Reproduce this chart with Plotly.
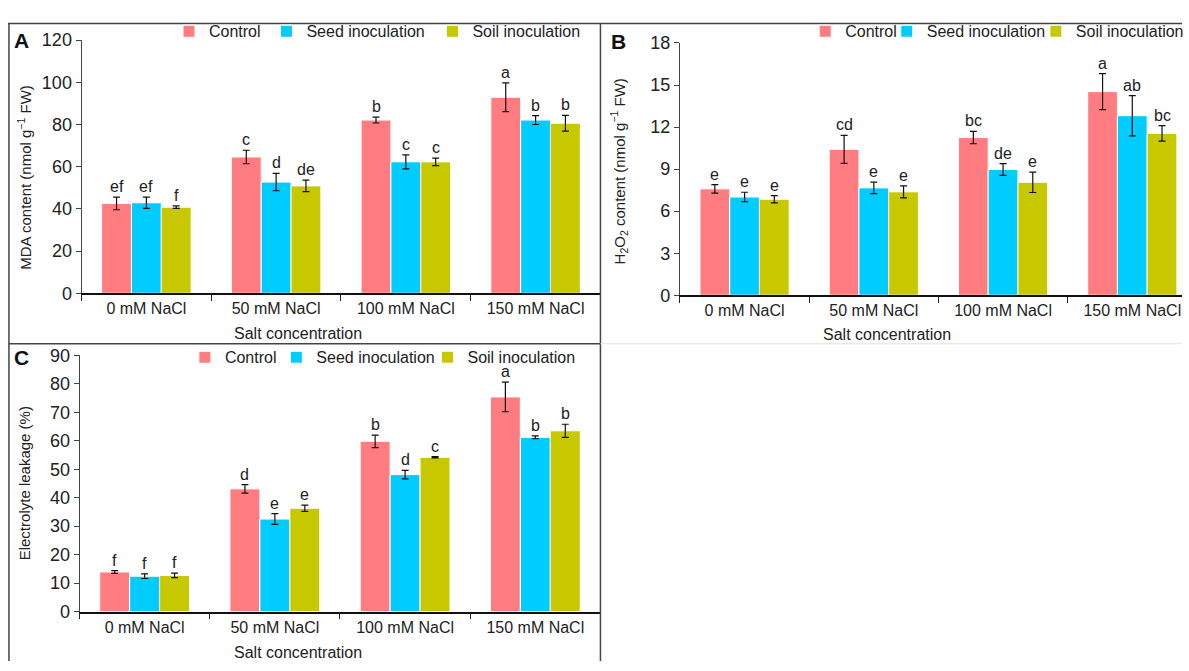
import plotly.graph_objects as go

W, H = 1189, 671
categories = ["0 mM NaCl", "50 mM NaCl", "100 mM NaCl", "150 mM NaCl"]
series_names = ["Control", "Seed inoculation", "Soil inoculation"]
colors = ["#FF7C80", "#00CCFF", "#C8C800"]

# Panel A: MDA content
mda_control = [42.6, 64.6, 82.1, 92.9]
mda_seed = [42.9, 52.7, 62.3, 82.1]
mda_soil = [40.8, 50.9, 62.3, 80.6]
mda_control_err = [3.0, 3.2, 1.4, 6.8]
mda_seed_err = [2.7, 4.1, 3.3, 2.1]
mda_soil_err = [0.6, 2.7, 1.8, 3.7]
mda_control_lab = ["ef", "c", "b", "a"]
mda_seed_lab = ["ef", "d", "c", "b"]
mda_soil_lab = ["f", "de", "c", "b"]

# Panel B: H2O2 content
h2o2_control = [7.59, 10.41, 11.25, 14.53]
h2o2_seed = [7.01, 7.66, 8.97, 12.81]
h2o2_soil = [6.85, 7.38, 8.06, 11.55]
h2o2_control_err = [0.30, 1.00, 0.44, 1.29]
h2o2_seed_err = [0.34, 0.41, 0.42, 1.44]
h2o2_soil_err = [0.26, 0.43, 0.73, 0.55]
h2o2_control_lab = ["e", "cd", "bc", "a"]
h2o2_seed_lab = ["e", "e", "de", "ab"]
h2o2_soil_lab = ["e", "e", "e", "bc"]

# Panel C: electrolyte leakage
el_control = [13.9, 43.1, 59.8, 75.4]
el_seed = [12.4, 32.5, 48.1, 61.2]
el_soil = [12.7, 36.3, 54.2, 63.5]
el_control_err = [0.5, 1.5, 2.2, 5.2]
el_seed_err = [0.8, 1.9, 1.5, 0.5]
el_soil_err = [0.8, 1.1, 0.2, 2.3]
el_control_lab = ["f", "d", "b", "a"]
el_seed_lab = ["f", "e", "d", "b"]
el_soil_lab = ["f", "e", "c", "b"]

yticks_a = [0, 20, 40, 60, 80, 100, 120]
yticks_b = [0, 3, 6, 9, 12, 15, 18]
yticks_c = [0, 10, 20, 30, 40, 50, 60, 70, 80, 90]

FONT = "Arial, Liberation Sans, sans-serif"
TXT = "#222222"
BARGAP = 0.31

def px(x):
    return x / W

def py(y):
    return 1 - y / H

panels = [
    dict(ax="", vals=[mda_control, mda_seed, mda_soil],
         errs=[mda_control_err, mda_seed_err, mda_soil_err],
         labs=[mda_control_lab, mda_seed_lab, mda_soil_lab],
         xdom=[px(82), px(604)], ydom=[py(292), py(31)], yr=[0, 120], yt=yticks_a,
         xr=[-0.5, 3.5], legx=[190, 288, 455], legy=22),
    dict(ax="2", vals=[h2o2_control, h2o2_seed, h2o2_soil],
         errs=[h2o2_control_err, h2o2_seed_err, h2o2_soil_err],
         labs=[h2o2_control_lab, h2o2_seed_lab, h2o2_soil_lab],
         xdom=[px(684), 1.0], ydom=[py(294), py(34)], yr=[0, 18], yt=yticks_b,
         xr=[-0.5, -0.5 + 505 / 130.0], legx=[830, 912, 1062], legy=22),
    dict(ax="3", vals=[el_control, el_seed, el_soil],
         errs=[el_control_err, el_seed_err, el_soil_err],
         labs=[el_control_lab, el_seed_lab, el_soil_lab],
         xdom=[px(80), px(604)], ydom=[py(620), py(356)], yr=[0, 90], yt=yticks_c,
         xr=[-0.5, 3.5], legx=[206, 298, 450], legy=358),
]

fig = go.Figure()
annotations = []
layout = {}
legend_idx = 0
bw = (1 - BARGAP) / 3.0
for p in panels:
    ax = p["ax"]
    for k in range(3):
        legend_idx += 1
        lname = "legend" if legend_idx == 1 else f"legend{legend_idx}"
        fig.add_trace(go.Bar(
            x=categories, y=p["vals"][k], name=series_names[k],
            marker=dict(color=colors[k], line=dict(color="white", width=1)),
            error_y=dict(type="data", array=p["errs"][k], color="#111111",
                         thickness=1.2, width=3.5),
            xaxis="x" + ax, yaxis="y" + ax, legend=lname, showlegend=True,
        ))
        layout[lname] = dict(
            x=px(p["legx"][k] - 20), y=py(p["legy"]), xanchor="left", yanchor="middle",
            orientation="h", bgcolor="rgba(0,0,0,0)", borderwidth=0,
            font=dict(family=FONT, size=16, color=TXT), itemwidth=30,
        )
        for i in range(4):
            annotations.append(dict(
                x=i + (k - 1) * bw, y=p["vals"][k][i] + p["errs"][k][i],
                xref="x" + ax, yref="y" + ax, text=p["labs"][k][i],
                showarrow=False, yanchor="bottom", xanchor="center", yshift=0,
                font=dict(family=FONT, size=16, color=TXT),
            ))
    layout["xaxis" + ax] = dict(
        domain=p["xdom"], anchor="y" + ax, type="category", range=p["xr"],
        showline=True, linecolor="#111111", linewidth=1.8,
        ticks="outside", tickson="boundaries", ticklen=6, tickcolor="#222222",
        tickfont=dict(family=FONT, size=16, color=TXT), showgrid=False, zeroline=False,
    )
    layout["yaxis" + ax] = dict(
        domain=p["ydom"], anchor="x" + ax, range=p["yr"], tickvals=p["yt"],
        showline=True, linecolor="#444444", linewidth=1, ticks="outside", ticklen=5,
        tickcolor="#444444", tickfont=dict(family=FONT, size=18, color=TXT),
        showgrid=False, zeroline=False,
    )

# Axis titles and panel letters
for (x, y, t) in [(300, 333, "Salt concentration"), (892, 334, "Salt concentration"),
                  (300, 662, "Salt concentration")]:
    annotations.append(dict(x=px(x), y=py(y), xref="paper", yref="paper", text=t,
                            showarrow=False, xanchor="center", yanchor="middle",
                            font=dict(family=FONT, size=16, color=TXT)))
for (x, y, t) in [(25, 172, "MDA content (nmol g<sup>−1</sup> FW)"),
                  (622, 166, "H<sub>2</sub>O<sub>2</sub> content (nmol g<sup>−1</sup> FW)"),
                  (25, 488, "Electrolyte leakage (%)")]:
    annotations.append(dict(x=px(x), y=py(y), xref="paper", yref="paper", text=t,
                            showarrow=False, xanchor="center", yanchor="middle",
                            textangle=-90, font=dict(family=FONT, size=15, color=TXT)))
for (x, y, t) in [(22, 31, "A"), (622, 32, "B"), (22, 358, "C")]:
    annotations.append(dict(x=px(x), y=py(y), xref="paper", yref="paper", text=f"<b>{t}</b>",
                            showarrow=False, xanchor="center", yanchor="middle",
                            font=dict(family=FONT, size=21, color="#111111")))

frame = "#444444"
shapes = [
    dict(type="line", xref="paper", yref="paper", x0=px(8), x1=1, y0=py(14), y1=py(14),
         line=dict(color=frame, width=1.5)),
    dict(type="line", xref="paper", yref="paper", x0=px(9), x1=px(9), y0=py(14), y1=0,
         line=dict(color=frame, width=1.5)),
    dict(type="line", xref="paper", yref="paper", x0=px(604), x1=px(604), y0=py(14), y1=0,
         line=dict(color=frame, width=1.5)),
    dict(type="line", xref="paper", yref="paper", x0=px(9), x1=px(604), y0=py(344), y1=py(344),
         line=dict(color=frame, width=1.5)),
    dict(type="line", xref="paper", yref="paper", x0=px(604), x1=1, y0=py(344), y1=py(344),
         line=dict(color="#e2e2e2", width=1)),
]

fig.update_layout(
    width=W, height=H, margin=dict(l=0, r=0, t=0, b=0),
    paper_bgcolor="white", plot_bgcolor="white",
    barmode="group", bargap=BARGAP, bargroupgap=0,
    annotations=annotations, shapes=shapes,
    font=dict(family=FONT, size=16, color=TXT),
    **layout,
)
fig.write_html("out.html")
